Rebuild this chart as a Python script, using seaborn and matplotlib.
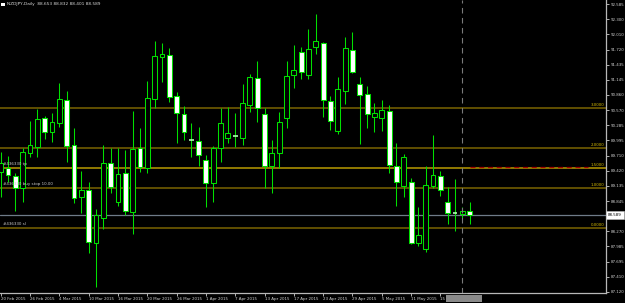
import matplotlib
matplotlib.use("Agg")
import matplotlib.pyplot as plt
import seaborn as sns
import numpy as np
import pandas as pd
from matplotlib.patches import Rectangle

# ---------------- data ----------------
title_text = "NZDJPY,Daily  88.653 88.832 88.401 88.589"

opens = [89.403, 89.467, 89.327, 89.088, 89.763, 89.877, 90.422, 90.162, 90.321, 90.763,
         89.904, 88.929, 89.050, 88.044, 88.519, 89.562, 88.822, 89.373, 88.633, 89.847,
         89.467, 90.777, 91.574, 91.617, 90.845, 90.492, 90.006, 89.991, 89.625, 89.194,
         89.858, 90.037, 90.083, 90.037, 90.669, 91.187, 90.492, 89.517, 89.752, 90.416,
         91.232, 91.680, 91.238, 91.775, 91.839, 90.750, 90.181, 90.934, 91.712, 91.061,
         90.872, 90.447, 90.416, 90.560, 89.517, 89.137, 89.208, 88.044, 87.936, 89.137,
         89.327, 88.834, 88.624, 88.595, 88.653]
highs = [89.783, 89.701, 89.378, 89.858, 90.365, 90.587, 90.466, 90.511, 91.080, 90.940,
         90.226, 89.416, 89.213, 88.689, 89.910, 89.847, 89.847, 89.815, 90.555, 90.232,
         91.124, 91.883, 91.839, 91.756, 90.915, 90.650, 90.321, 90.245, 89.720, 89.896,
         90.617, 90.636, 90.511, 91.067, 91.257, 91.504, 90.606, 90.004, 90.530, 91.504,
         91.807, 91.775, 92.105, 92.395, 91.870, 90.839, 91.194, 91.953, 92.054, 91.194,
         91.029, 90.701, 90.763, 90.669, 89.942, 89.739, 89.278, 88.727, 89.511, 90.099,
         89.416, 89.107, 89.264, 88.733, 88.832]
lows = [88.929, 89.213, 88.663, 88.834, 89.688, 89.688, 90.029, 89.972, 90.257, 89.593,
        88.803, 88.614, 87.866, 87.221, 88.310, 88.993, 88.758, 88.581, 88.215, 89.397,
        89.384, 90.606, 91.111, 90.731, 89.942, 90.004, 89.688, 89.517, 88.727, 88.822,
        89.593, 89.942, 89.877, 89.910, 90.541, 90.352, 89.099, 89.004, 89.467, 90.227,
        90.997, 91.162, 91.156, 91.631, 90.447, 90.194, 90.113, 90.688, 91.282, 89.929,
        90.227, 90.162, 90.175, 89.384, 88.758, 88.929, 88.030, 87.999, 87.885, 89.088,
        88.942, 88.405, 88.278, 88.524, 88.401]
closes = [89.562, 89.340, 89.099, 89.771, 89.904, 90.403, 90.162, 90.340, 90.777, 89.896,
          88.910, 89.056, 88.063, 88.581, 89.562, 89.118, 89.354, 88.657, 89.828, 89.492,
          90.796, 91.598, 91.631, 90.826, 90.511, 90.162, 90.000, 89.720, 89.194, 89.847,
          90.333, 90.132, 90.078, 90.701, 91.194, 90.606, 89.517, 89.752, 90.352, 91.219,
          91.333, 91.300, 91.726, 91.889, 90.763, 90.371, 90.967, 91.744, 91.300, 90.858,
          90.498, 90.511, 90.568, 89.530, 89.202, 89.676, 88.044, 88.196, 89.145, 89.335,
          89.056, 88.614, 88.620, 88.652, 88.589]

date_labels = ["20 Feb 2015", "26 Feb 2015", "4 Mar 2015", "10 Mar 2015", "16 Mar 2015",
               "20 Mar 2015", "26 Mar 2015", "1 Apr 2015", "7 Apr 2015", "13 Apr 2015",
               "17 Apr 2015", "23 Apr 2015", "29 Apr 2015", "5 May 2015", "11 May 2015",
               "15 May 2015"]
label_step = 4
cursor_bar = 63

price_ticks = [92.585, 92.300, 92.010, 91.720, 91.435, 91.145, 90.860, 90.570, 90.285,
               89.995, 89.710, 89.420, 89.135, 88.845, 88.270, 87.985, 87.695, 87.410,
               87.120]
price_tick_labels = ["92.585", "92.300", "92.010", "91.720", "91.435", "91.145", "90.860",
                     "90.570", "90.285", "89.995", "89.710", "89.420", "89.135", "88.845",
                     "88.270", "87.985", "87.695", "87.410", "87.120"]

fib_levels = [90.612, 89.853, 89.473, 89.094, 88.335]
fib_labels = ["3.0000", "2.0000", "1.5000", "1.0000", "0.0000"]
fib_colors = ["#7a6400", "#7a6400", "#b89a00", "#7a6400", "#7a6400"]

order_id = "#436330"
order_texts = [order_id + " tp", order_id + " buy stop 10.00", order_id + " sl"]
order_prices = [89.473, 89.094, 88.335]
pending_line = 89.492
bid = 88.589
bid_label = "88.589"

# ---------------- style ----------------
sns.set_theme(style="dark", rc={"axes.facecolor": "black", "figure.facecolor": "black",
                                "axes.grid": False})
plt.rcParams["font.family"] = ["DejaVu Sans"]

W, H = 625, 303
fig = plt.figure(figsize=(W / 100, H / 100), dpi=100)
fig.patch.set_facecolor("black")
ax = fig.add_axes([0, 10 / H, 606 / W, 293 / H])
ax.set_facecolor("black")

df = pd.DataFrame({"open": opens, "high": highs, "low": lows, "close": closes})
df["idx"] = np.arange(len(df))

GREEN = "#00e000"
body_w = 0.66

# wicks
ax.vlines(df["idx"], df["low"], df["high"], color=GREEN, lw=0.75, zorder=2)
# bodies
for _, r in df.iterrows():
    o, c = r["open"], r["close"]
    if abs(o - c) < 0.012:
        ax.hlines((o + c) / 2, r["idx"] - body_w / 2, r["idx"] + body_w / 2,
                  color="#b0ffb0", lw=1.2, zorder=3)
        continue
    bear = c < o
    ax.bar(r["idx"], abs(c - o), bottom=min(o, c), width=body_w,
           facecolor="white" if bear else "black", edgecolor=GREEN,
           linewidth=0.75, zorder=3)

# fib levels
for lv, lab, col in zip(fib_levels, fib_labels, fib_colors):
    ax.axhline(lv, color=col, lw=1.1, zorder=1)
    ax.text(0.997, lv + 0.02, lab, transform=ax.get_yaxis_transform(), ha="right",
            va="bottom", fontsize=2.9, color="#d8bc00", zorder=5)

# bid line
ax.axhline(bid, color="#6f7b88", lw=0.9, zorder=1)
# pending order dashed red
ax.axhline(pending_line, xmin=470 / 606, xmax=588 / 606, color="#a00000", lw=0.9,
           ls=(0, (4, 3)), zorder=1)
# cursor vertical dashed
ax.axvline(cursor_bar, color="#7a7a7a", lw=0.8, ls=(0, (5, 4)), zorder=4)

# order texts
for t, p in zip(order_texts, order_prices):
    ax.text(0.005, p + 0.03, t, transform=ax.get_yaxis_transform(), ha="left",
            va="bottom", fontsize=2.9, color="#c8c8c8", zorder=5)

ax.set_xlim(-0.1, 82.6)
ax.set_ylim(87.101, 92.661)

# axes
for s in ["top", "left"]:
    ax.spines[s].set_visible(False)
for s in ["bottom", "right"]:
    ax.spines[s].set_color("#b8b8b8")
    ax.spines[s].set_linewidth(0.9)

ax.yaxis.tick_right()
ax.set_yticks(price_ticks)
ax.set_yticklabels(price_tick_labels)
ax.tick_params(axis="y", which="both", direction="out", length=2.2, width=0.6,
               colors="#d0d0d0", labelsize=2.9, pad=1.2)

xt = [i * label_step for i in range(len(date_labels))]
ax.set_xticks(xt)
ax.set_xticklabels(date_labels, ha="left")
ax.tick_params(axis="x", which="both", direction="out", length=2.2, width=0.6,
               colors="#d0d0d0", labelsize=2.9, pad=1.0)
ax.tick_params(axis="x", labelbottom=True, bottom=True)
ax.tick_params(axis="y", right=True, labelright=True, left=False, labelleft=False)

# cursor date highlight box (covers part of the last date label, as in the terminal)
fig.patches.append(Rectangle((445.5 / W, (H - 302) / H), 36 / W, 7 / H,
                             transform=fig.transFigure, facecolor="#8a8a8a",
                             edgecolor="none", zorder=10))

# bid box
yb = 1 - 215 / H
fig.patches.append(Rectangle((606 / W, yb - 4 / H), 18 / W, 8 / H,
                             transform=fig.transFigure, facecolor="white",
                             edgecolor="#c0c0c0", lw=0.4, zorder=10))
fig.text(615 / W, yb, bid_label, ha="center", va="center", fontsize=2.9,
         color="black", zorder=11)

# header
fig.patches.append(Rectangle((1.5 / W, 1 - 6 / H), 3 / W, 2.5 / H,
                             transform=fig.transFigure, facecolor="white",
                             edgecolor="none", zorder=10))
fig.text(7 / W, 1 - 4.5 / H, title_text, ha="left", va="center", fontsize=3.1,
         color="#d8d8d8")

fig.savefig("out.png", dpi=100, facecolor="black")
